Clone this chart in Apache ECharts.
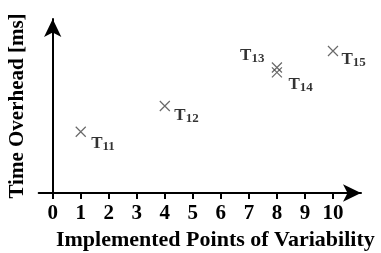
<!DOCTYPE html>
<html>
<head>
<meta charset="utf-8">
<script src="https://cdn.jsdelivr.net/npm/echarts@6/dist/echarts.min.js"></script>
<style>
  html, body { margin: 0; padding: 0; background: #fff; }
  #chart { width: 381px; height: 253px; }
</style>
</head>
<body>
<div id="chart"></div>
<script>
// data (y has no scale, arbitrary units 0..10)
let pointNames = ['11', '12', '13', '14', '15'];
let pointsX = [1, 4, 8, 8, 10];
let pointsY = [3.52, 5.0, 7.21, 6.93, 8.16];
let xTicks = [0, 1, 2, 3, 4, 5, 6, 7, 8, 9, 10];

// where each label sits next to its marker
let labelPlace = {
    '11': { position: 'right', offset: [-2, 12] },
    '12': { position: 'right', offset: [-3, 10] },
    '13': { position: 'left', offset: [0, -12] },
    '14': { position: 'right', offset: [-1, 12] },
    '15': { position: 'right', offset: [-4, 9] }
};

let serif = '"Liberation Serif", "DejaVu Serif", serif';
let myChart = echarts.init(document.getElementById('chart'));

let seriesData = [];
for (let i = 0; i < pointsX.length; i++) {
    let p = labelPlace[pointNames[i]];
    seriesData.push({
        value: [pointsX[i], pointsY[i]],
        label: {
            show: true,
            position: p.position,
            offset: p.offset,
            formatter: 'T{sub|' + pointNames[i] + '}'
        }
    });
}

let option = {
    animation: false,
    grid: {
        left: 38.7,
        width: 322.3,
        top: 19,
        height: 174,
        outerBoundsMode: 'none'
    },
    xAxis: {
        type: 'value',
        min: -0.5,
        max: 11,
        name: 'Implemented Points of Variability',
        nameLocation: 'middle',
        nameGap: 36,
        nameTextStyle: {
            fontFamily: serif,
            fontWeight: 'bold',
            fontSize: 22,
            color: '#000',
            padding: [0, 0, 0, 31]
        },
        axisLine: {
            onZero: true,
            symbol: ['none', 'arrow'],
            symbolSize: [13, 18],
            lineStyle: { color: '#000', width: 2 }
        },
        axisTick: {
            show: true,
            length: 6,
            customValues: xTicks,
            lineStyle: { color: '#000', width: 2 }
        },
        axisLabel: {
            customValues: xTicks,
            fontFamily: serif,
            fontWeight: 'bold',
            fontSize: 21,
            color: '#000',
            margin: 10
        },
        splitLine: { show: false }
    },
    yAxis: {
        type: 'value',
        min: 0,
        max: 10,
        name: 'Time Overhead [ms]',
        nameLocation: 'middle',
        nameGap: 11,
        nameTextStyle: {
            fontFamily: serif,
            fontWeight: 'bold',
            fontSize: 21,
            color: '#000'
        },
        axisLine: {
            onZero: true,
            symbol: ['none', 'arrow'],
            symbolSize: [13, 18],
            lineStyle: { color: '#000', width: 2 }
        },
        axisTick: { show: false },
        axisLabel: { show: false },
        splitLine: { show: false }
    },
    series: [{
        type: 'scatter',
        symbol: 'path://M0,0L10,10M10,0L0,10',
        symbolSize: 10,
        itemStyle: {
            color: 'none',
            borderColor: '#444',
            borderWidth: 1.2
        },
        label: {
            fontFamily: serif,
            fontWeight: 'bold',
            fontSize: 17,
            color: '#000',
            distance: 5,
            rich: {
                sub: {
                    fontFamily: serif,
                    fontWeight: 'bold',
                    fontSize: 13,
                    color: '#000',
                    verticalAlign: 'bottom',
                    padding: [6, 0, 0, 0]
                }
            }
        },
        data: seriesData
    }]
};
myChart.setOption(option);
</script>
</body>
</html>
